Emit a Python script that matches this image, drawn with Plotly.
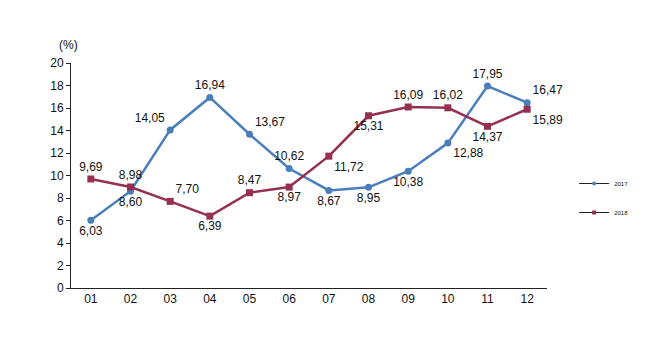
import plotly.graph_objects as go

months = ["01", "02", "03", "04", "05", "06", "07", "08", "09", "10", "11", "12"]
v2017 = [6.03, 8.60, 14.05, 16.94, 13.67, 10.62, 8.67, 8.95, 10.38, 12.88, 17.95, 16.47]
v2018 = [9.69, 8.98, 7.70, 6.39, 8.47, 8.97, 11.72, 15.31, 16.09, 16.02, 14.37, 15.89]
pos2017 = ["bottom center", "bottom center", "top left", "top center", "top right", "top center",
           "bottom center", "bottom center", "bottom center", "bottom right", "top center", "top right"]
pos2018 = ["top center", "top center", "top right", "bottom center", "top center", "bottom center",
           "bottom right", "bottom center", "top center", "top center", "bottom center", "bottom right"]

c17 = "#4A7EBB"
c18 = "#953052"

def fmt(v):
    return f"{v:.2f}".replace(".", ",")

fig = go.Figure()
fig.add_trace(go.Scatter(
    x=months, y=v2017, name="2017", mode="lines+markers+text", showlegend=False,
    line=dict(color=c17, width=2.5), marker=dict(symbol="circle", size=7, color=c17),
    text=[fmt(v) for v in v2017], textposition=pos2017, cliponaxis=False,
    textfont=dict(family="Liberation Sans, Arial", size=12, color="#111"),
))
fig.add_trace(go.Scatter(
    x=months, y=v2018, name="2018", mode="lines+markers+text", showlegend=False,
    line=dict(color=c18, width=2.5), marker=dict(symbol="square", size=7, color=c18),
    text=[fmt(v) for v in v2018], textposition=pos2018, cliponaxis=False,
    textfont=dict(family="Liberation Sans, Arial", size=12, color="#111"),
))
# legend entries (black line, coloured marker)
fig.add_trace(go.Scatter(x=[None], y=[None], name="2017", mode="lines+markers", legendgroup="a",
                         line=dict(color="#222", width=1), marker=dict(symbol="circle", size=4, color=c17)))
fig.add_trace(go.Scatter(x=[None], y=[None], name="2018", mode="lines+markers", legendgroup="b",
                         line=dict(color="#222", width=1), marker=dict(symbol="square", size=4, color=c18)))

fig.update_layout(
    width=650, height=360,
    margin=dict(l=63, r=111, t=55, b=80),
    paper_bgcolor="white", plot_bgcolor="white",
    font=dict(family="Liberation Sans, Arial", size=12, color="#111"),
    showlegend=True,
    legend=dict(x=1.057, y=0.40, xanchor="left", yanchor="middle",
                font=dict(size=6), tracegroupgap=10, bgcolor="rgba(0,0,0,0)"),
    annotations=[dict(text="(%)", x=0, y=1.04, xref="paper", yref="paper",
                      xanchor="center", yanchor="bottom", showarrow=False,
                      font=dict(size=12), xshift=-3)],
)
fig.update_xaxes(type="category", range=[-0.5, 11.5], showline=True, linecolor="#222",
                 linewidth=1, ticks="", showgrid=False, tickfont=dict(size=12))
fig.update_yaxes(range=[0, 20], dtick=2, showline=True, linecolor="#222", linewidth=1,
                 ticks="outside", ticklen=4, tickcolor="#222", showgrid=False, zeroline=False,
                 tickfont=dict(size=12))

fig.write_html("out.html")
